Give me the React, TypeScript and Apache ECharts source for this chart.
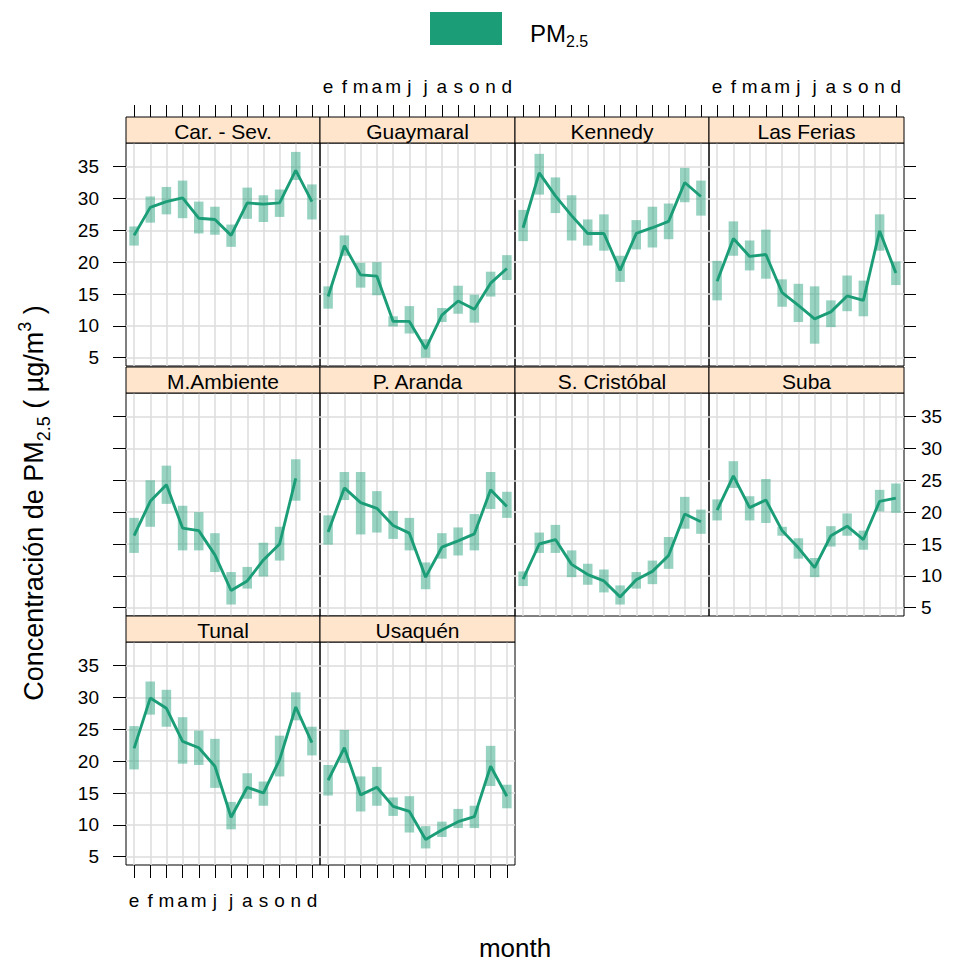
import React, { useEffect, useRef } from "react";
import * as echarts from "echarts";

const months = ["e", "f", "m", "a", "m", "j", "j", "a", "s", "o", "n", "d"];
const monthNumbers = [1, 2, 3, 4, 5, 6, 7, 8, 9, 10, 11, 12];
const yTicks = [5, 10, 15, 20, 25, 30, 35];
const stations = ["Car. - Sev.", "Guaymaral", "Kennedy", "Las Ferias", "M.Ambiente", "P. Aranda", "S. Cristóbal", "Suba", "Tunal", "Usaquén"];

const carSevMean = [24.2, 28.6, 29.5, 30.1, 26.9, 26.7, 24.2, 29.3, 29.1, 29.3, 34.4, 29.5];
const carSevLow = [22.6, 26.2, 27.5, 26.9, 24.5, 24.3, 22.4, 26.8, 26.3, 27.1, 32.9, 26.7];
const carSevHigh = [25.6, 30.3, 31.8, 32.8, 29.5, 28.7, 25.9, 31.7, 30.5, 31.4, 37.3, 32.2];

const guaymaralMean = [14.6, 22.6, 18.0, 17.8, 10.7, 10.7, 6.4, 11.7, 13.9, 12.6, 16.7, 19.0];
const guaymaralLow = [12.7, 21.0, 16.0, 14.8, 9.9, 8.8, 5.0, 10.6, 11.9, 10.5, 14.6, 17.2];
const guaymaralHigh = [16.2, 24.2, 19.9, 20.0, 11.5, 13.1, 7.9, 12.8, 16.3, 14.9, 18.5, 21.1];

const kennedyMean = [25.4, 34.0, 30.4, 27.3, 24.5, 24.5, 18.7, 24.5, 25.4, 26.4, 32.5, 30.3];
const kennedyLow = [23.3, 30.6, 27.7, 23.4, 22.6, 21.8, 16.9, 22.0, 22.3, 23.6, 29.4, 27.3];
const kennedyHigh = [28.2, 37.0, 33.3, 30.5, 26.7, 27.5, 21.0, 26.6, 28.7, 29.2, 34.8, 32.8];

const lasFeriasMean = [17.0, 23.7, 20.9, 21.2, 15.2, 13.2, 11.1, 12.2, 14.7, 14.0, 24.9, 18.3];
const lasFeriasLow = [14.0, 21.0, 18.7, 17.4, 13.0, 10.6, 7.2, 9.8, 12.3, 11.5, 21.8, 16.4];
const lasFeriasHigh = [20.2, 26.4, 23.4, 25.1, 17.3, 16.6, 16.2, 14.0, 17.9, 17.1, 27.5, 20.1];

const mAmbienteMean = [16.3, 21.7, 24.3, 17.5, 17.1, 13.3, 7.7, 9.2, 12.5, 15.0, 25.3, null];
const mAmbienteLow = [13.6, 17.7, 21.3, 14.0, 14.0, 10.6, 5.5, 8.0, 9.9, 12.4, 21.8, null];
const mAmbienteHigh = [19.1, 25.0, 27.3, 21.0, 20.0, 16.7, 10.6, 11.4, 15.2, 17.7, 28.3, null];

const pArandaMean = [16.9, 23.8, 21.5, 20.6, 17.9, 16.7, 9.8, 14.5, 15.5, 16.6, 23.5, 20.9];
const pArandaLow = [14.9, 21.9, 16.5, 16.8, 15.8, 14.0, 7.9, 12.7, 13.2, 14.0, 20.5, 19.1];
const pArandaHigh = [19.5, 26.3, 26.3, 23.3, 20.2, 19.1, 12.1, 16.7, 17.6, 19.7, 26.3, 23.2];

const sCristobalMean = [9.5, 15.0, 15.7, 11.8, 10.2, 9.2, 6.7, 9.4, 10.7, 13.2, 19.7, 18.5];
const sCristobalLow = [8.4, 13.6, 13.6, 9.8, 8.6, 7.4, 5.5, 8.0, 8.7, 11.1, 17.4, 16.6];
const sCristobalHigh = [10.7, 16.8, 18.0, 14.0, 11.9, 11.0, 8.5, 10.6, 12.4, 16.1, 22.4, 20.4];

const subaMean = [20.3, 25.7, 20.7, 21.9, 17.1, 14.4, 11.3, 16.3, 17.8, 15.7, 21.7, 22.2];
const subaLow = [18.7, 23.8, 18.7, 18.3, 16.3, 12.7, 9.8, 14.6, 16.3, 14.1, 20.1, 19.9];
const subaHigh = [22.0, 28.0, 22.5, 25.2, 17.7, 15.9, 12.8, 17.8, 19.8, 17.1, 23.5, 24.5];

const tunalMean = [22.0, 29.9, 28.3, 23.1, 22.1, 19.2, 11.2, 15.9, 15.0, 20.2, 28.5, 22.9];
const tunalLow = [18.7, 27.3, 25.4, 19.6, 19.4, 15.8, 9.3, 14.1, 13.0, 17.6, 26.4, 20.9];
const tunalHigh = [25.5, 32.5, 31.2, 26.9, 24.8, 23.5, 13.6, 18.1, 16.8, 24.0, 30.8, 25.4];

const usaquenMean = [17.0, 22.1, 14.7, 15.9, 12.9, 12.1, 7.7, 9.2, 10.5, 11.3, 19.2, 14.5];
const usaquenLow = [14.6, 19.7, 12.1, 13.0, 11.4, 8.8, 6.3, 8.1, 9.5, 9.5, 16.1, 12.6];
const usaquenHigh = [19.4, 24.9, 17.6, 19.1, 14.3, 14.5, 9.8, 10.5, 12.5, 13.0, 22.4, 16.3];

const panelMeans = [carSevMean, guaymaralMean, kennedyMean, lasFeriasMean, mAmbienteMean, pArandaMean, sCristobalMean, subaMean, tunalMean, usaquenMean];
const panelLows = [carSevLow, guaymaralLow, kennedyLow, lasFeriasLow, mAmbienteLow, pArandaLow, sCristobalLow, subaLow, tunalLow, usaquenLow];
const panelHighs = [carSevHigh, guaymaralHigh, kennedyHigh, lasFeriasHigh, mAmbienteHigh, pArandaHigh, sCristobalHigh, subaHigh, tunalHigh, usaquenHigh];

const FONT = "'Liberation Sans', Arial, sans-serif";
const GREEN = "#1B9E77";
const BAND = "rgba(27,158,119,0.45)";
const GRIDLINE = "#DCDCDC";

const LEFTS = [126, 320, 515, 709];
const WIDTHS = [194, 195, 194, 195];
const TOPS = [143, 393, 642];
const PLOT_H = 223;
const STRIP_H = 26;
const Y_MIN = 3.7;
const Y_MAX = 38.7;

function buildOption() {
  const grids: any[] = [];
  const xAxes: any[] = [];
  const yAxes: any[] = [];
  const series: any[] = [];
  const graphics: any[] = [];

  const monthFmt = (v: number) => months[Math.round(v) - 1] ?? "";

  stations.forEach((name, i) => {
    const r = Math.floor(i / 4);
    const c = i % 4;
    const left = LEFTS[c];
    const width = WIDTHS[c];
    const top = TOPS[r];
    grids.push({ left, top, width, height: PLOT_H, show: true, borderColor: "#000", borderWidth: 1, backgroundColor: "transparent" });

    const xi = xAxes.length;
    xAxes.push({
      gridIndex: i, type: "value", min: 0.5, max: 12.5, position: "bottom",
      axisLine: { show: false },
      axisTick: { show: r === 2, customValues: monthNumbers, length: 13, lineStyle: { color: "#000", width: 1 } },
      axisLabel: { show: i === 8, customValues: monthNumbers, formatter: monthFmt, margin: 26, fontSize: 19, color: "#000", fontFamily: FONT },
      splitLine: { show: true, lineStyle: { color: GRIDLINE, width: 1.5 } },
    });
    if (r === 0) {
      xAxes.push({
        gridIndex: i, type: "value", min: 0.5, max: 12.5, position: "top", offset: STRIP_H,
        axisLine: { show: false },
        axisTick: { show: true, customValues: monthNumbers, length: 12, lineStyle: { color: "#000", width: 1 } },
        axisLabel: { show: c === 1 || c === 3, customValues: monthNumbers, formatter: monthFmt, margin: 21, fontSize: 19, color: "#000", fontFamily: FONT },
        splitLine: { show: false },
      });
    }
    const yi = yAxes.length;
    yAxes.push({
      gridIndex: i, type: "value", min: Y_MIN, max: Y_MAX, position: "left",
      axisLine: { show: false },
      axisTick: { show: c === 0, customValues: yTicks, length: 13, lineStyle: { color: "#000", width: 1 } },
      axisLabel: { show: c === 0 && r !== 1, customValues: yTicks, margin: 27, fontSize: 19, color: "#000", fontFamily: FONT },
      splitLine: { show: true, lineStyle: { color: GRIDLINE, width: 1.5 } },
    });
    if (c === 3 && r < 2) {
      yAxes.push({
        gridIndex: i, type: "value", min: Y_MIN, max: Y_MAX, position: "right",
        axisLine: { show: false },
        axisTick: { show: true, customValues: yTicks, length: 12, lineStyle: { color: "#000", width: 1 } },
        axisLabel: { show: r === 1, customValues: yTicks, margin: 17, fontSize: 19, color: "#000", fontFamily: FONT },
        splitLine: { show: false },
      });
    }

    const means = panelMeans[i];
    const lows = panelLows[i];
    const highs = panelHighs[i];
    const bandData = monthNumbers
      .map((m, k) => [m, lows[k], highs[k]])
      .filter((d) => d[1] != null && d[2] != null);
    const lineData = monthNumbers
      .map((m, k) => [m, means[k]])
      .filter((d) => d[1] != null);

    series.push({
      type: "custom", xAxisIndex: xi, yAxisIndex: yi, data: bandData, silent: true, z: 2,
      renderItem: (_p: any, api: any) => {
        const x = api.value(0);
        const lo = api.value(1);
        const hi = api.value(2);
        const a = api.coord([x, hi]);
        const b = api.coord([x, lo]);
        const w = 9.5;
        return { type: "rect", shape: { x: a[0] - w / 2, y: a[1], width: w, height: b[1] - a[1] }, style: { fill: BAND } };
      },
    });
    series.push({
      type: "line", xAxisIndex: xi, yAxisIndex: yi, data: lineData, symbol: "none", showSymbol: false, silent: true, z: 3,
      lineStyle: { color: GREEN, width: 2.9 }, itemStyle: { color: GREEN },
    });

    graphics.push({
      type: "rect", shape: { x: left, y: top - STRIP_H, width, height: STRIP_H },
      style: { fill: "#FFE5CC", stroke: "#000", lineWidth: 1 }, z: 10,
    });
    graphics.push({
      type: "text", x: left + width / 2, y: top - STRIP_H / 2 + 1, z: 11,
      style: { text: name, fill: "#000", font: `21px ${FONT}`, align: "center", verticalAlign: "middle" },
    });
  });

  // legend
  graphics.push({ type: "rect", shape: { x: 430, y: 12, width: 72, height: 33 }, style: { fill: GREEN }, z: 10 });
  graphics.push({
    type: "text", x: 530, y: 33, z: 11,
    style: {
      text: "{n|PM}{s|2.5}", align: "left", verticalAlign: "middle", fill: "#000",
      rich: {
        n: { fontSize: 24, fontFamily: FONT, lineHeight: 32, verticalAlign: "middle", fill: "#000" },
        s: { fontSize: 16, fontFamily: FONT, lineHeight: 16, verticalAlign: "bottom", fill: "#000" },
      },
    },
  });

  // y axis title
  graphics.push({
    type: "text", x: 34, y: 503, rotation: Math.PI / 2, z: 11,
    style: {
      text: "{n|Concentración de PM}{s|2.5}{n| ( µg/m}{p|3}{n| )}", align: "center", verticalAlign: "middle", fill: "#000",
      rich: {
        n: { fontSize: 27, fontFamily: FONT, lineHeight: 37, verticalAlign: "middle", fill: "#000" },
        s: { fontSize: 18, fontFamily: FONT, lineHeight: 19, verticalAlign: "bottom", fill: "#000" },
        p: { fontSize: 18, fontFamily: FONT, lineHeight: 19, verticalAlign: "top", fill: "#000" },
      },
    },
  });

  // x axis title
  graphics.push({
    type: "text", x: 515, y: 948, z: 11,
    style: { text: "month", fill: "#000", font: `26px ${FONT}`, align: "center", verticalAlign: "middle" },
  });

  return {
    animation: false,
    backgroundColor: "#fff",
    grid: grids,
    xAxis: xAxes,
    yAxis: yAxes,
    series,
    graphic: graphics,
  };
}

export default function App() {
  const ref = useRef<HTMLDivElement>(null);
  useEffect(() => {
    if (!ref.current) return;
    const chart = echarts.init(ref.current, null, { renderer: "svg" });
    chart.setOption(buildOption());
    return () => chart.dispose();
  }, []);
  return <div ref={ref} style={{ position: "absolute", left: 0, top: 0, width: 959, height: 962 }} />;
}
